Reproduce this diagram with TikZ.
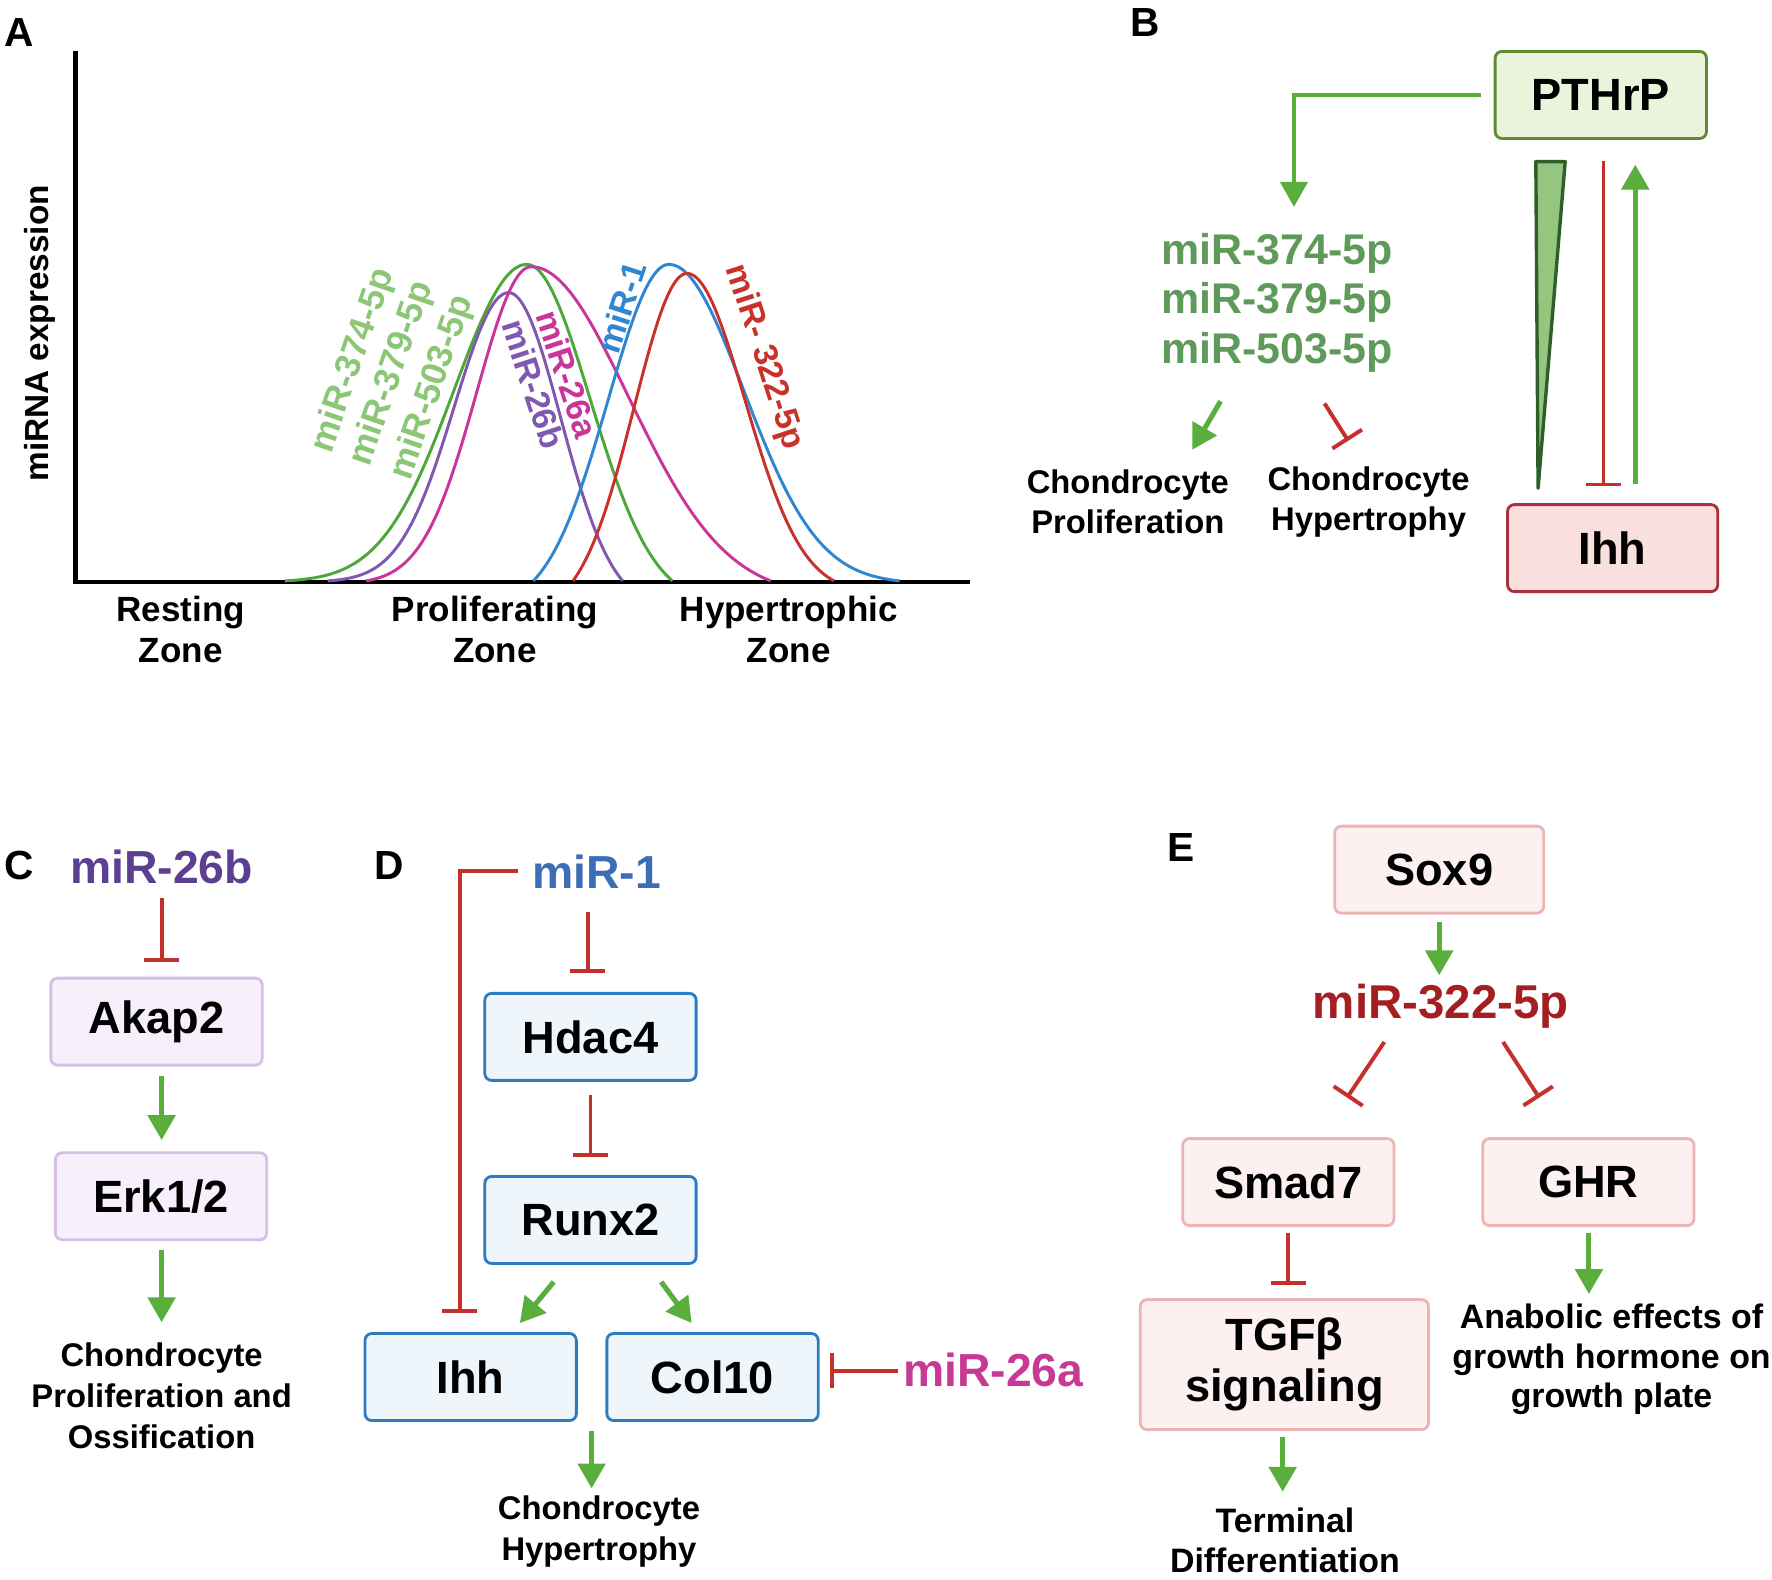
\documentclass[tikz,border=0pt]{standalone}
\usepackage{fontspec}
\setmainfont{Liberation Sans}
\usetikzlibrary{arrows.meta,calc}
\definecolor{actgreen}{HTML}{5AAE3C}
\definecolor{inhred}{HTML}{C4302B}
\definecolor{lgreen}{HTML}{8CC777}
\definecolor{cgreen}{HTML}{4DA83A}
\definecolor{cmag}{HTML}{C9369B}
\definecolor{cpurp}{HTML}{8058B0}
\definecolor{cblue}{HTML}{2F87D2}
\definecolor{cred}{HTML}{C8322B}
\definecolor{mirBg}{HTML}{5E9A5A}
\definecolor{ctwosixb}{HTML}{5C3F90}
\definecolor{donblue}{HTML}{3C6EB5}
\definecolor{mtwosixa}{HTML}{C63A96}
\definecolor{ethree}{HTML}{A51F22}
\definecolor{pthrpF}{HTML}{E9F4DA}
\definecolor{pthrpD}{HTML}{5F8B30}
\definecolor{ihhF}{HTML}{FADFDF}
\definecolor{ihhD}{HTML}{A8313D}
\definecolor{purF}{HTML}{F7F0FC}
\definecolor{purD}{HTML}{D5BFE7}
\definecolor{bluF}{HTML}{EEF6FC}
\definecolor{bluD}{HTML}{2E7CC0}
\definecolor{pinkF}{HTML}{FDF0F0}
\definecolor{pinkD}{HTML}{EBB5B5}
\definecolor{wedgeF}{HTML}{95C680}
\definecolor{wedgeD}{HTML}{2E5E2A}
\newcommand\gausscurve[7]{%
  \pgfmathsetmacro\eLft{exp(-0.5*((#2-#3)/#6)*((#2-#3)/#6))}%
  \pgfmathsetmacro\eRgt{exp(-0.5*((#4-#3)/#7)*((#4-#3)/#7))}%
  \draw[curve,#1] plot[domain=#2:#3,samples=70] (\x,{514-#5*(exp(-0.5*((\x-#3)/#6)*((\x-#3)/#6))-\eLft)/(1-\eLft)})
     -- plot[domain=#3:#4,samples=70] (\x,{514-#5*(exp(-0.5*((\x-#3)/#7)*((\x-#3)/#7))-\eRgt)/(1-\eRgt)});}
\begin{document}
\begin{tikzpicture}[x=1pt,y=-1pt,
  plabel/.style={inner sep=0pt,font=\fontsize{36}{40}\selectfont\bfseries},
  box/.style={draw,rounded corners=6pt,line width=2.5pt,minimum width=187pt,minimum height=77pt,inner sep=0pt,font=\fontsize{40}{46}\selectfont\bfseries},
  purbox/.style={box,draw=purD,fill=purF},
  blubox/.style={box,draw=bluD,fill=bluF},
  pinkbox/.style={box,draw=pinkD,fill=pinkF},
  mirlab/.style={inner sep=0pt,font=\fontsize{41}{46}\selectfont\bfseries},
  rot/.style={inner sep=0pt,font=\fontsize{30}{32}\selectfont\bfseries},
  small/.style={inner sep=0pt,align=center,font=\fontsize{29}{36}\selectfont\bfseries},
  zone/.style={inner sep=0pt,align=center,font=\fontsize{31}{36}\selectfont\bfseries},
  curve/.style={line width=2.6pt},
  act/.style={draw=actgreen,line width=4.5pt,-{Triangle[width=24pt,length=22pt]}},
  inh/.style={draw=inhred,line width=3.5pt,-{Bar[width=31pt]}}]
\useasboundingbox (0,0) rectangle (1568,1398);

% ---------------- Panel A
\node[plabel] (lA) at (17,29) {A};
\coordinate (ytop) at (67,45);
\coordinate (orig) at (67,515);
\coordinate (xend) at (858,515);
\draw[line width=4pt] (ytop) -- (orig) -- (xend);
\node[rotate=90,inner sep=0pt,font=\fontsize{29.5}{32}\selectfont\bfseries] (ylab) at (35,295) {miRNA expression};
\node[zone] (zr) at (160,557) {Resting\\Zone};
\node[zone] (zp) at (438,557) {Proliferating\\Zone};
\node[zone] (zh) at (698,557) {Hypertrophic\\Zone};

\gausscurve{cgreen}{252}{466}{595}{280}{64}{56}
\gausscurve{cpurp}{290}{450}{551}{255}{48}{46}
\gausscurve{cmag}{324}{470}{682}{278}{48}{86}
\gausscurve{cblue}{472}{592}{796}{280}{54}{66}
\gausscurve{cred}{507}{608}{738}{272}{47}{51}

\node[rot,text=lgreen,rotate=71,font=\fontsize{31.5}{32}\selectfont\bfseries] (l374) at (313,319) {miR-374-5p};
\node[rot,text=lgreen,rotate=71,font=\fontsize{31.5}{32}\selectfont\bfseries] (l379) at (347,331) {miR-379-5p};
\node[rot,text=lgreen,rotate=71,font=\fontsize{31.5}{32}\selectfont\bfseries] (l503) at (383,343) {miR-503-5p};
\node[rot,text=cpurp,rotate=-72] (l26b) at (472,340) {miR-26b};
\node[rot,text=cmag,rotate=-72] (l26a) at (502,331) {miR-26a};
\node[rot,text=cblue,rotate=72] (l1) at (550,272) {miR-1};
\node[rot,text=cred,rotate=-72] (l322) at (676,316) {miR- 322-5p};

% ---------------- Panel B
\node[plabel] (lB) at (1013,20) {B};
\node[box,draw=pthrpD,fill=pthrpF] (pthrp) at (1416.5,84) {PTHrP};
\node[box,draw=ihhD,fill=ihhF,minimum width=186pt] (ihhB) at (1427,485) {Ihh};
\node[inner sep=0pt,align=center,text=mirBg,font=\fontsize{38}{44}\selectfont\bfseries] (mirB) at (1130,268) {miR-374-5p\\miR-379-5p\\miR-503-5p};
\node[small,font=\fontsize{29}{35}\selectfont\bfseries] (prolB) at (998,444) {Chondrocyte\\Proliferation};
\node[small,font=\fontsize{29}{35}\selectfont\bfseries] (hypB) at (1211,444) {Chondrocyte\\Hypertrophy};
\draw[act,line width=3.5pt] ([xshift=-11pt]pthrp.west) -| ($(mirB.center)+(15,-85)$);
\draw[act] ($(mirB.center)+(-50,87)$) -- ($(prolB.center)+(57,-46)$);
\draw[inh] ($(mirB.center)+(42,89)$) -- ($(hypB.center)+(-18,-54)$);
\filldraw[fill=wedgeF,draw=wedgeD,line width=3pt,line join=round] (1359,143) -- (1385,143) -- (1361,432) -- cycle;
\draw[inh,line width=3pt] ($(pthrp.south)+(2.5,19)$) -- ($(ihhB.north)+(-8,-15)$);
\draw[act] ($(ihhB.north)+(20,-17)$) -- ($(pthrp.south)+(30.5,22)$);

% ---------------- Panel C
\node[plabel] (lC) at (17,766) {C};
\node[mirlab,text=ctwosixb] (mir26b) at (143,767) {miR-26b};
\node[purbox] (akap2) at (138.5,904) {Akap2};
\node[purbox] (erk) at (142.5,1058.5) {Erk1/2};
\node[small] (chondC) at (143,1235) {Chondrocyte\\Proliferation and\\Ossification};
\draw[inh] ($(mir26b.center)+(0,28)$) -- ($(akap2.north)+(4.5,-13)$);
\draw[act] ($(akap2.south)+(4.5,8)$) -- ($(erk.north)+(0.5,-10)$);
\draw[act] ($(erk.south)+(0.5,8)$) -- ($(chondC.center)+(0,-65)$);

% ---------------- Panel D
\node[plabel] (lD) at (344,766) {D};
\node[mirlab,text=donblue] (mir1) at (528,771) {miR-1};
\node[blubox] (hdac4) at (522.5,917.5) {Hdac4};
\node[blubox] (runx2) at (522.5,1079.5) {Runx2};
\node[blubox] (ihhDn) at (416.5,1218.5) {Ihh};
\node[blubox] (col10) at (630.5,1218.5) {Col10};
\node[mirlab,text=mtwosixa] (mir26a) at (879,1212) {miR-26a};
\node[small] (chondD) at (530,1355) {Chondrocyte\\Hypertrophy};
\draw[inh] ($(mir1.center)+(-70,0)$) -| ($(ihhDn.north)+(-9.5,-17)$);
\draw[inh] ($(mir1.center)+(-8,36)$) -- ($(hdac4.north)+(-2.5,-17)$);
\draw[inh] ($(hdac4.south)+(0,12)$) -- ($(runx2.north)+(0,-16)$);
\draw[act] ($(runx2.south)+(-32.5,15)$) -- ($(ihhDn.north)+(43.5,-8)$);
\draw[act] ($(runx2.south)+(62.5,15)$) -- ($(col10.north)+(-18.5,-8)$);
\draw[inh] ($(mir26a.center)+(-84,1)$) -- ($(col10.east)+(9,-5.5)$);
\draw[act] ($(ihhDn.south east)!.5!(col10.south west)+(0,8)$) -- ($(chondD.center)+(-6.5,-38)$);

% ---------------- Panel E
\node[plabel] (lE) at (1045,750) {E};
\node[pinkbox,minimum width=185pt] (sox9) at (1273.5,769.5) {Sox9};
\node[mirlab,text=ethree,font=\fontsize{42}{46}\selectfont\bfseries] (mir322) at (1275,890) {miR-322-5p};
\node[pinkbox] (smad7) at (1140,1046) {Smad7};
\node[pinkbox] (ghr) at (1405.5,1046) {GHR};
\node[pinkbox,minimum width=255pt,minimum height=115pt,align=center,font=\fontsize{40}{45}\selectfont\bfseries] (tgfb) at (1136.5,1207.5) {TGFβ\\signaling};
\node[small,font=\fontsize{30}{36}\selectfont\bfseries] (term) at (1137,1363) {Terminal\\Differentiation};
\node[small,font=\fontsize{30}{35}\selectfont\bfseries] (anab) at (1426,1203) {Anabolic effects of\\growth hormone on\\growth plate};
\draw[act] ($(sox9.south)+(0,7)$) -- ($(mir322.center)+(-1.5,-27)$);
\draw[inh] ($(mir322.center)+(-50,32)$) -- ($(smad7.north)+(52,-35)$);
\draw[inh] ($(mir322.center)+(55,32)$) -- ($(ghr.north)+(-43.5,-35)$);
\draw[inh] ($(smad7.south)+(0,5)$) -- ($(tgfb.north)+(3.5,-12)$);
\draw[act] ($(ghr.south)+(0.5,5)$) -- ($(anab.center)+(-20,-58)$);
\draw[act] ($(tgfb.south)+(-1.5,5)$) -- ($(term.center)+(-2,-43)$);
\end{tikzpicture}
\end{document}
